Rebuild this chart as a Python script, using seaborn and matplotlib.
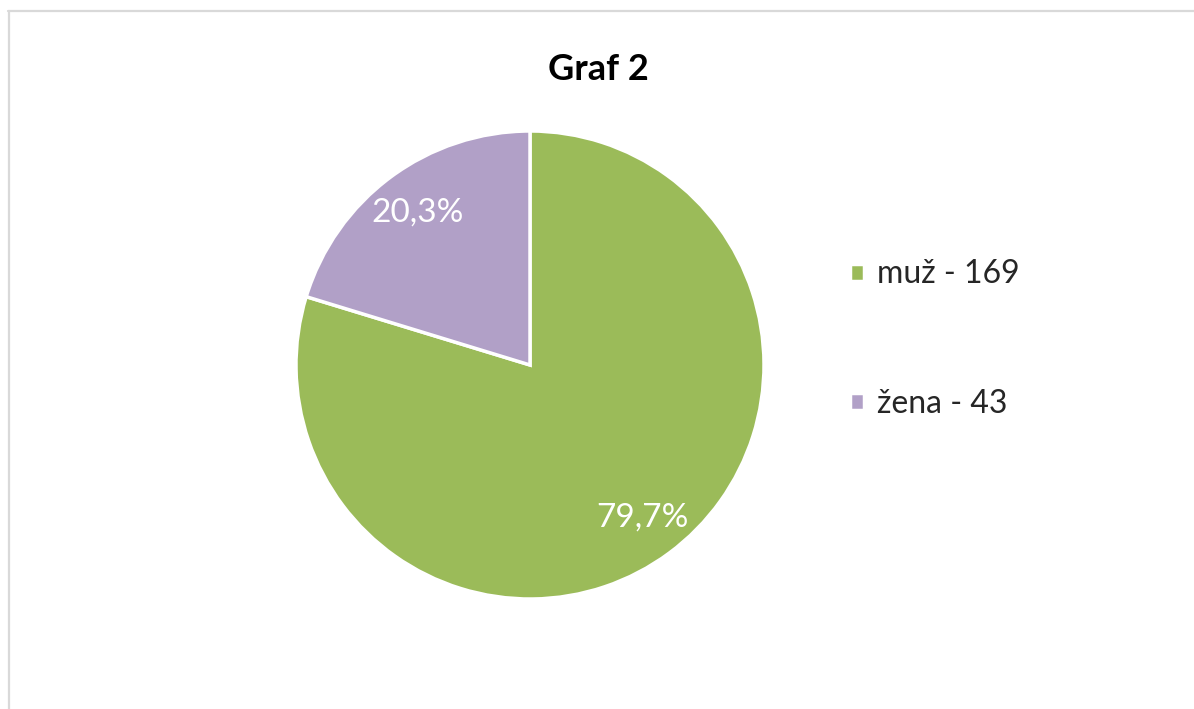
import matplotlib
matplotlib.use("Agg")
import matplotlib.pyplot as plt
import seaborn as sns
from matplotlib.lines import Line2D

sns.set_theme(style="white")
plt.rcParams["font.family"] = ["Lato", "DejaVu Sans"]

# data
labels = ["muž", "žena"]
counts = [169, 43]
pct_labels = ["79,7%", "20,3%"]
colors = ["#9BBB59", "#B1A0C7"]

W, H = 1194, 709
fig = plt.figure(figsize=(W / 100, H / 100), dpi=100)
fig.patch.set_facecolor("white")

# chart frame (top and left edges only visible)
fig.add_artist(Line2D([8 / W, 1.0], [1 - 11 / H, 1 - 11 / H], color="#D9D9D9", lw=1.6))
fig.add_artist(Line2D([9 / W, 9 / W], [0.0, 1 - 11 / H], color="#D9D9D9", lw=1.6))

cx, cy, r = 530, 365, 234
ax = fig.add_axes([(cx - r) / W, (H - cy - r) / H, 2 * r / W, 2 * r / H])

wedges, texts, autotexts = ax.pie(
    counts,
    colors=colors,
    startangle=90,
    counterclock=False,
    autopct="%1.1f%%",
    pctdistance=0.81,
    wedgeprops=dict(edgecolor="white", linewidth=2.5),
    textprops=dict(color="white", fontsize=24),
)
for t, lab in zip(autotexts, pct_labels):
    t.set_text(lab)
ax.set_xlim(-1, 1)
ax.set_ylim(-1, 1)
ax.set_aspect("equal")

fig.text(598 / W, 1 - 70 / H, "Graf 2", ha="center", va="center",
         fontsize=26, fontweight="bold", color="black")

legend_labels = [f"{l} - {c}" for l, c in zip(labels, counts)]
fig.legend(wedges, legend_labels, loc="center left",
           bbox_to_anchor=(850 / W, 1 - 339 / H), frameon=False,
           fontsize=23, handlelength=0.44, handleheight=0.44,
           handletextpad=0.4, labelspacing=3.1, borderpad=0, borderaxespad=0)

fig.savefig("out.png", dpi=100, facecolor="white")
